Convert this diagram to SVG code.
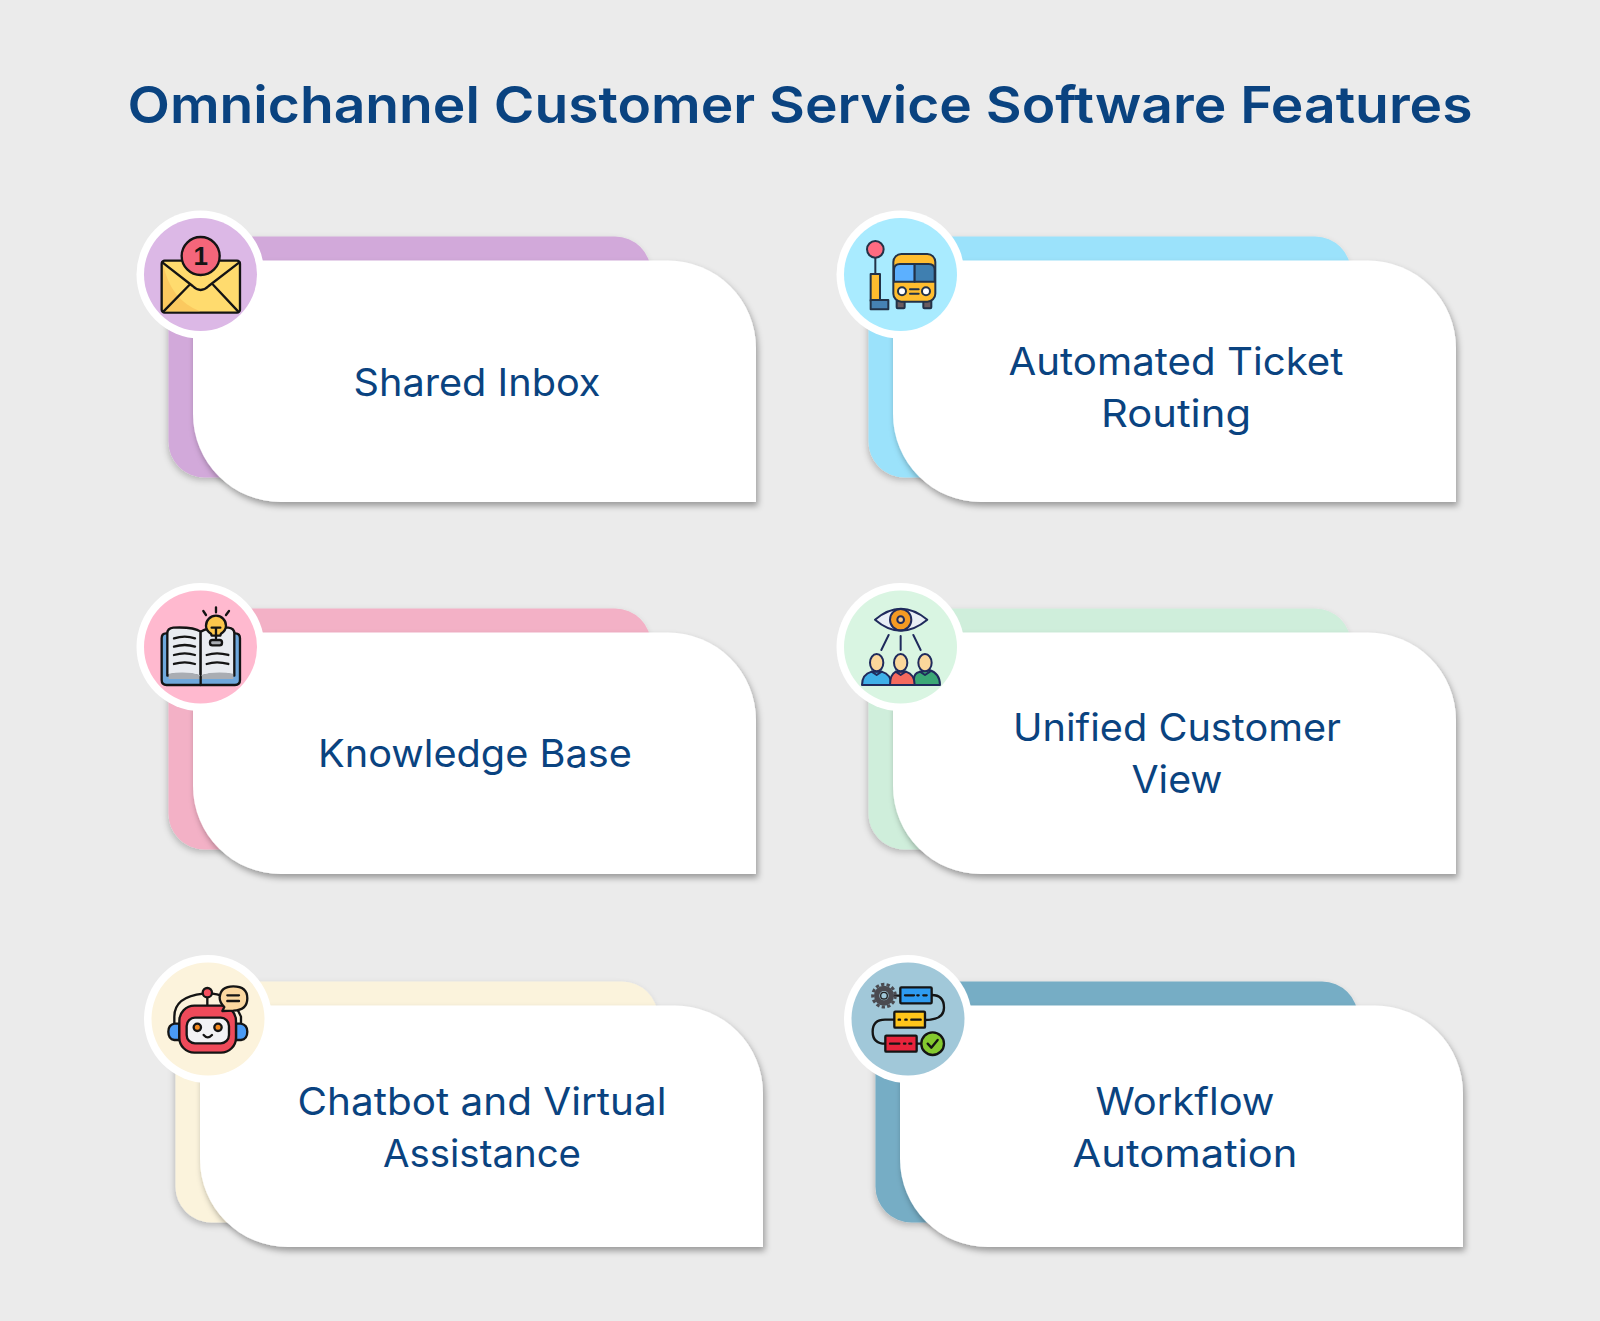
<svg xmlns="http://www.w3.org/2000/svg" width="1600" height="1321" viewBox="0 0 1600 1321">
<style>
.t{font-family:"Inter","Open Sans","Liberation Sans",sans-serif;fill:#0a4380}
.h{font-size:51px;font-weight:600}
.l{font-size:38px;font-weight:400}
.card{fill:#fff;filter:url(#s)}
.back{filter:url(#s2)}
.ring{fill:#fff}
.k{stroke:#141414;stroke-width:7;stroke-linejoin:round;stroke-linecap:round}
.b{stroke:#223248;stroke-width:6;stroke-linejoin:round;stroke-linecap:round}
.n{stroke:#1f2a5c;stroke-width:6;stroke-linejoin:round;stroke-linecap:round}
.no{fill:none}
</style>
<defs>
<filter id="s" x="-10%" y="-10%" width="120%" height="125%"><feDropShadow dx="2" dy="4" stdDeviation="3" flood-color="#000" flood-opacity=".34"/></filter>
<filter id="s2" x="-10%" y="-10%" width="120%" height="125%"><feDropShadow dx="-1" dy="3" stdDeviation="3" flood-color="#000" flood-opacity=".22"/></filter>
<path id="cardShape" d="M0 0H475A88 88 0 0 1 563 88V241.500H88A88 88 0 0 1 0 153.500Z"/>
</defs>
<rect width="1600" height="1321" fill="#ebebeb"/>
<text class="t h" x="800" y="123" text-anchor="middle" textLength="1345" lengthAdjust="spacingAndGlyphs">Omnichannel Customer Service Software Features</text>

<g id="shared-inbox">
<rect class="back" x="168.500" y="236.500" width="482.500" height="241" rx="36" fill="#d2a9da"/>
<use class="card" href="#cardShape" x="193" y="260.500"/>
<text class="t l" x="477" y="396" text-anchor="middle" textLength="247" lengthAdjust="spacingAndGlyphs">Shared Inbox</text>
<circle class="ring" cx="200.500" cy="274.500" r="64"/>
<circle cx="200.500" cy="274.500" r="56.500" fill="#dcb8e6"/>
<g transform="translate(130 200) scale(.3333)">
<rect class="k" x="95" y="182" width="235" height="156" rx="9" fill="#ffdb6e"/>
<path d="M99 190V334H210Q120 300 99 190Z" fill="#fbc95f"/>
<path class="k no" d="M97 187L188 258Q212 282 236 258L328 187M100 335L178 255M325 335L250 255"/>
<circle class="k" cx="212" cy="168" r="57" fill="#f4667a"/>
<text x="212" y="196" text-anchor="middle" font-family="Liberation Sans,sans-serif" font-weight="700" font-size="78" fill="#141414">1</text>
</g>
</g>

<g id="automated-ticket-routing">
<rect class="back" x="868.500" y="236.500" width="482.500" height="241" rx="36" fill="#9be2fb"/>
<use class="card" href="#cardShape" x="893" y="260.500"/>
<text class="t l" x="1176" y="375" text-anchor="middle" textLength="335" lengthAdjust="spacingAndGlyphs">Automated Ticket</text>
<text class="t l" x="1176" y="427" text-anchor="middle" textLength="150" lengthAdjust="spacingAndGlyphs">Routing</text>
<circle class="ring" cx="900.500" cy="274.500" r="64"/>
<circle cx="900.500" cy="274.500" r="56.500" fill="#a9ebff"/>
<g transform="translate(830 200) scale(.3333)">
<path class="b no" d="M136 172V222"/>
<circle class="b" cx="136" cy="148" r="25" fill="#ff6b81"/>
<rect class="b" x="122" y="222" width="28" height="80" fill="#ffbd2e"/>
<path class="b" d="M122 300H152V300H175V328H122Z" fill="#4682b4"/>
<rect class="b" x="200" y="300" width="24" height="25" rx="3" fill="#6b5b5f"/>
<rect class="b" x="280" y="300" width="24" height="25" rx="3" fill="#6b5b5f"/>
<rect class="b" x="190" y="162" width="126" height="143" rx="24" fill="#ffbd2e"/>
<path class="b" d="M192 245V210Q192 192 210 192H254V245Z" fill="#5cb0ff"/>
<path class="b" d="M254 192H296Q314 192 314 210V245H254Z" fill="#3f7fb0"/>
<circle class="b" cx="216" cy="274" r="12" fill="#fff"/>
<circle class="b" cx="288" cy="274" r="12" fill="#fff"/>
<path class="b no" d="M240 268H266M240 281H266"/>
</g>
</g>

<g id="knowledge-base">
<rect class="back" x="168.500" y="608.500" width="482.500" height="241" rx="36" fill="#f3b1c6"/>
<use class="card" href="#cardShape" x="193" y="632.500"/>
<text class="t l" x="475" y="767" text-anchor="middle" textLength="314" lengthAdjust="spacingAndGlyphs">Knowledge Base</text>
<circle class="ring" cx="200.500" cy="647" r="64"/>
<circle cx="200.500" cy="647" r="56.500" fill="#ffb9cf"/>
<g transform="translate(130 575) scale(.3333)">
<path class="k" d="M112 175H108Q95 175 95 190V315Q95 330 110 330H315Q330 330 330 315V190Q330 175 316 175H310Z" fill="#6fa8dc"/>
<path class="k" d="M212 170Q190 155 130 158Q112 160 112 175V302Q170 292 212 305Z" fill="#e9ecf1"/>
<path class="k" d="M212 170Q235 155 295 158Q313 160 313 175V302Q255 292 212 305Z" fill="#e9ecf1"/>
<path d="M116 296Q170 288 210 300V312H116ZM214 300Q255 288 310 296V312H214Z" fill="#a9adb3"/>
<path class="k no" d="M212 305V330M132 190Q165 180 195 190M132 215Q165 205 195 215M132 240Q165 230 195 240M132 267Q165 257 195 267M230 240Q260 230 295 240M230 267Q260 257 295 267"/>
<path class="k no" d="M220 108L228 120M258 97V112M297 108L288 120"/>
<path class="k" d="M245 182L243 176Q228 166 228 152A30 30 0 0 1 288 152Q288 166 273 176L271 182Z" fill="#fcc64b"/>
<path class="k no" d="M245 158H271M258 158V190"/>
<rect class="k" x="240" y="195" width="36" height="16" rx="7" fill="#a9adb3"/>
</g>
</g>

<g id="unified-customer-view">
<rect class="back" x="868.500" y="608.500" width="482.500" height="241" rx="36" fill="#cfeedb"/>
<use class="card" href="#cardShape" x="893" y="632.500"/>
<text class="t l" x="1177" y="741" text-anchor="middle" textLength="328" lengthAdjust="spacingAndGlyphs">Unified Customer</text>
<text class="t l" x="1177" y="793" text-anchor="middle" textLength="91" lengthAdjust="spacingAndGlyphs">View</text>
<circle class="ring" cx="900.500" cy="647" r="64"/>
<circle cx="900.500" cy="647" r="56.500" fill="#d9f5e2"/>
<g transform="translate(830 575) scale(.3333)">
<path class="n" d="M135 134Q212 68 292 134Q212 200 135 134Z" fill="#e8eef5"/>
<circle class="n" cx="212" cy="134" r="32" fill="#f59a23"/>
<circle class="n" cx="212" cy="134" r="10" fill="#f7c98a"/>
<path class="n no" d="M176 180L154 225M212 183V225M250 180L272 225"/>
<path class="n" d="M252 330V312Q252 295 268 291L298 285Q330 295 330 330Z" fill="#3ba776"/>
<path class="n" d="M96 330Q96 298 125 290L155 290Q184 298 184 330Z" fill="#3fb0e8"/>
<path class="n" d="M180 330Q180 298 198 290L228 290Q254 298 254 330Z" fill="#f56a5e"/>
<ellipse class="n" cx="140" cy="263" rx="20" ry="26" fill="#fbd79b"/>
<ellipse class="n" cx="212" cy="263" rx="20" ry="26" fill="#fbd79b"/>
<ellipse class="n" cx="285" cy="263" rx="20" ry="26" fill="#fbd79b"/>
<path class="n no" d="M125 290L140 300L155 290M197 290L212 300L227 290M270 290L285 300L300 290"/>
</g>
</g>

<g id="chatbot-virtual-assistance">
<rect class="back" x="175.500" y="981.500" width="482.500" height="241" rx="36" fill="#fbf3dc"/>
<use class="card" href="#cardShape" x="200" y="1005.500"/>
<text class="t l" x="482" y="1115" text-anchor="middle" textLength="369" lengthAdjust="spacingAndGlyphs">Chatbot and Virtual</text>
<text class="t l" x="482" y="1167" text-anchor="middle" textLength="198" lengthAdjust="spacingAndGlyphs">Assistance</text>
<circle class="ring" cx="208" cy="1019" r="64"/>
<circle cx="208" cy="1019" r="56.500" fill="#fcf3dc"/>
<g transform="translate(135 945) scale(.3333)">
<path class="k no" d="M118 235V215Q118 155 205 146M232 146Q290 150 318 215V235"/>
<path class="k no" d="M217 157V182"/>
<circle class="k" cx="217" cy="143" r="14" fill="#f4505f"/>
<path class="k" d="M133 236H118Q100 240 100 260Q100 282 118 285H133Z" fill="#4a9bf5"/>
<path class="k" d="M303 236H318Q337 240 337 260Q337 282 318 285H303Z" fill="#4a9bf5"/>
<rect class="k" x="133" y="182" width="170" height="141" rx="45" fill="#ef4a5a"/>
<rect class="k" x="155" y="218" width="127" height="77" rx="25" fill="#f2f2f5"/>
<circle class="k" cx="187" cy="247" r="11" fill="#f58a1f"/>
<circle class="k" cx="249" cy="247" r="11" fill="#f58a1f"/>
<path class="k no" d="M206 270Q218 284 231 270"/>
<path class="k" d="M262 198L268 186Q254 172 254 158Q256 124 295 124Q337 124 337 160Q337 196 295 197Q278 197 262 198Z" fill="#fad7a0"/>
<path class="k no" d="M277 151H312M277 168H312"/>
</g>
</g>

<g id="workflow-automation">
<rect class="back" x="875.500" y="981.500" width="482.500" height="241" rx="36" fill="#76adc5"/>
<use class="card" href="#cardShape" x="900" y="1005.500"/>
<text class="t l" x="1185" y="1115" text-anchor="middle" textLength="179" lengthAdjust="spacingAndGlyphs">Workflow</text>
<text class="t l" x="1185" y="1167" text-anchor="middle" textLength="225" lengthAdjust="spacingAndGlyphs">Automation</text>
<circle class="ring" cx="908" cy="1019" r="64"/>
<circle cx="908" cy="1019" r="56.500" fill="#a1c8d9"/>
<g transform="translate(840 945) scale(.3333)">
<path class="k no" d="M160 152H181M275 150Q312 150 312 188Q312 225 255 225M163 224H135Q98 224 98 260Q98 296 136 296M230 296H244"/>
<circle cx="132" cy="152" r="34" fill="none" stroke="#4a4a50" stroke-width="9" stroke-dasharray="10 6.700"/>
<circle cx="132" cy="152" r="22" fill="none" stroke="#4a4a50" stroke-width="16"/>
<circle cx="132" cy="152" r="10" fill="#a1c8d9" stroke="#222" stroke-width="4"/>
<rect class="k" x="181" y="127" width="94" height="48" rx="3" fill="#2e9bf0"/>
<path class="k no" d="M195 151H222M232 151H236M250 151H260"/>
<rect class="k" x="163" y="200" width="92" height="48" rx="3" fill="#ffc51a"/>
<path class="k no" d="M176 224H180M196 224H200M214 224H242"/>
<rect class="k" x="136" y="272" width="94" height="48" rx="3" fill="#e8243c"/>
<path class="k no" d="M150 296H178M192 296H196M208 296H214"/>
<circle class="k" cx="278" cy="296" r="34" fill="#84c92f"/>
<path class="k no" d="M263 296L274 308L293 285"/>
</g>
</g>
</svg>
